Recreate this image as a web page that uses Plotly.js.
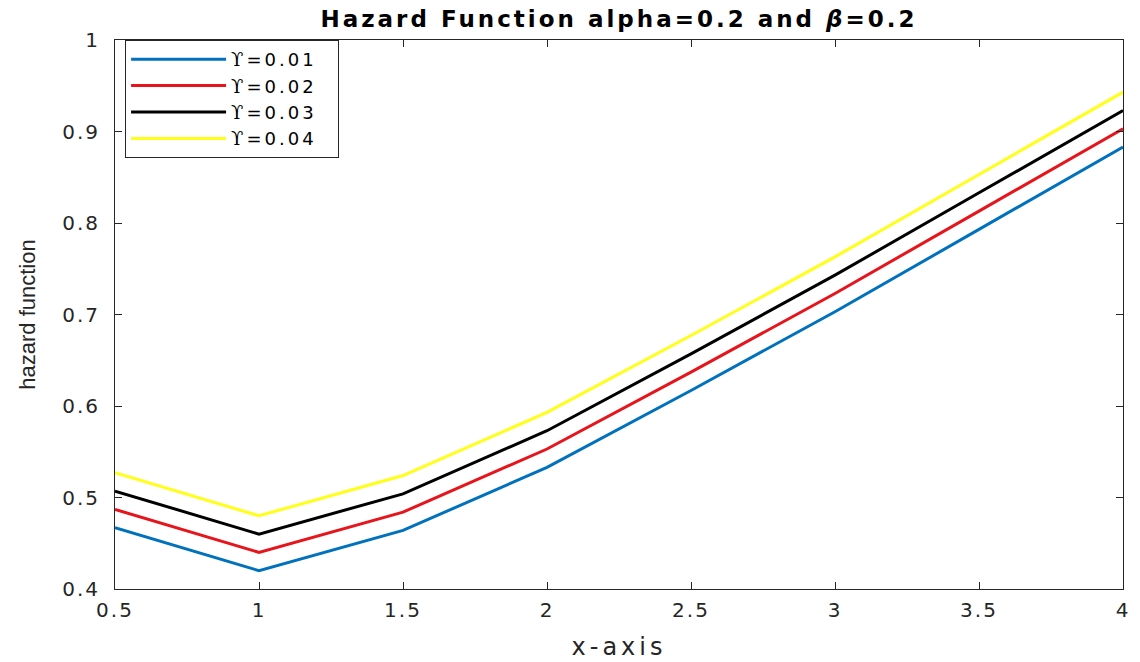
<!DOCTYPE html>
<html>
<head>
<meta charset="utf-8">
<script src="https://cdn.plot.ly/plotly-3.0.1.min.js"></script>
<style>
html,body{margin:0;padding:0;background:#fff;}
#chart{width:1140px;height:662px;}
#chart .gtitle{letter-spacing:3px;}
#chart .xtick text, #chart .ytick text{letter-spacing:2px;}
#chart .g-xtitle text{letter-spacing:4px;}
#chart .legendtext{letter-spacing:3px;}
</style>
</head>
<body>
<div id="chart"></div>
<script>
const xValues = [0.5, 1, 1.5, 2, 2.5, 3, 3.5, 4];
const upsilon001 = [0.467, 0.420, 0.464, 0.533, 0.617, 0.703, 0.793, 0.883];
const upsilon002 = [0.487, 0.440, 0.484, 0.553, 0.637, 0.723, 0.813, 0.903];
const upsilon003 = [0.507, 0.460, 0.504, 0.573, 0.657, 0.743, 0.833, 0.923];
const upsilon004 = [0.527, 0.480, 0.524, 0.593, 0.677, 0.763, 0.853, 0.943];
const seriesNames = ['ϒ=0.01', 'ϒ=0.02', 'ϒ=0.03', 'ϒ=0.04'];
const seriesColors = ['#0072BD', '#E8141B', '#000000', '#FFFF1A'];
const xTicks = [0.5, 1, 1.5, 2, 2.5, 3, 3.5, 4];
const xTickLabels = ['0.5', '1', '1.5', '2', '2.5', '3', '3.5', '4'];
const yTicks = [0.4, 0.5, 0.6, 0.7, 0.8, 0.9, 1];
const yTickLabels = ['0.4', '0.5', '0.6', '0.7', '0.8', '0.9', '1'];

const allSeries = [upsilon001, upsilon002, upsilon003, upsilon004];
const traces = allSeries.map((ys, i) => ({
  x: xValues, y: ys, type: 'scatter', mode: 'lines',
  name: '<span style="font-family:DejaVu Serif">ϒ</span>' + seriesNames[i].slice(1) + '\u00A0\u00A0\u00A0\u00A0\u00A0\u00A0',
  line: {color: seriesColors[i], width: 3}
}));

const sans = 'DejaVu Sans, Liberation Sans, Arial, sans-serif';
const layout = {
  width: 1140, height: 662,
  margin: {l: 115, r: 17, t: 40, b: 73},
  paper_bgcolor: '#ffffff', plot_bgcolor: '#ffffff',
  font: {family: sans, color: '#262626'},
  title: {
    text: '<b>Hazard Function alpha=0.2 and <i>β</i>=0.2</b>',
    font: {size: 23, color: '#000000', family: sans},
    x: 0.5, xref: 'paper', xanchor: 'center', y: 0.972, yref: 'container', yanchor: 'middle'
  },
  xaxis: {
    range: [0.5, 4], tickvals: xTicks, ticktext: xTickLabels,
    ticks: 'inside', ticklen: 7, tickcolor: '#262626', mirror: 'ticks',
    showline: true, linecolor: '#262626', linewidth: 1, showgrid: false, zeroline: false,
    tickfont: {size: 20, color: '#262626', family: sans}, ticklabelstandoff: 3,
    title: {text: 'x-axis', font: {size: 24, color: '#262626', family: sans}, standoff: 17}
  },
  yaxis: {
    range: [0.4, 1], tickvals: yTicks, ticktext: yTickLabels,
    ticks: 'inside', ticklen: 7, tickcolor: '#262626', mirror: 'ticks',
    showline: true, linecolor: '#262626', linewidth: 1, showgrid: false, zeroline: false,
    tickfont: {size: 20, color: '#262626', family: sans}, ticklabelstandoff: 10,
    title: {text: 'hazard function', font: {size: 22, color: '#262626', family: 'Liberation Sans, Arial, sans-serif'}, standoff: 26}
  },
  legend: {
    x: 0.01, y: 1, xanchor: 'left', yanchor: 'top',
    bgcolor: '#ffffff', bordercolor: '#262626', borderwidth: 1,
    font: {size: 18, color: '#000000', family: sans}, itemwidth: 95, tracegroupgap: 0
  },
  showlegend: true
};

Plotly.newPlot('chart', traces, layout, {displayModeBar: false, staticPlot: true});
</script>
</body>
</html>
